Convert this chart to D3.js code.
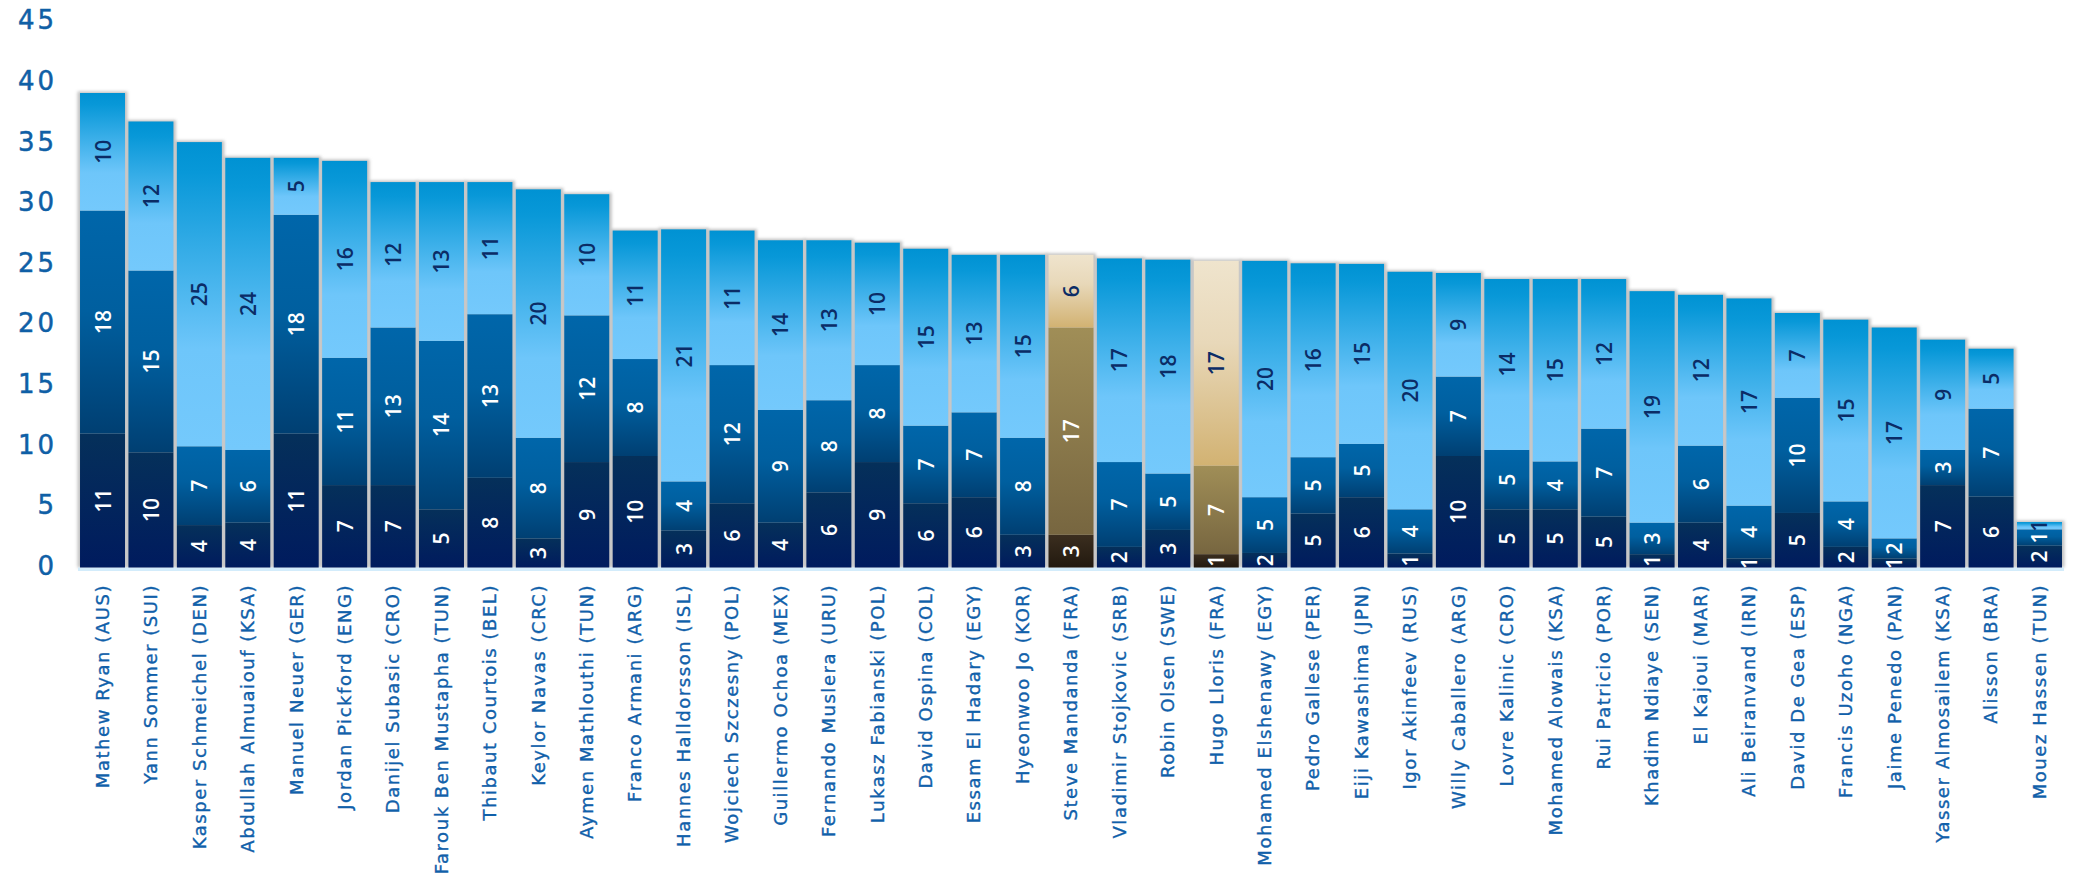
<!DOCTYPE html>
<html><head><meta charset="utf-8">
<script src="https://cdn.jsdelivr.net/npm/d3@7"></script>
<style>html,body{margin:0;padding:0;background:#fff;overflow:hidden}</style>
</head><body><svg id="c" width="2078" height="883"></svg>
<script>
const players = ["Mathew Ryan (AUS)","Yann Sommer (SUI)","Kasper Schmeichel (DEN)","Abdullah Almuaiouf (KSA)","Manuel Neuer (GER)","Jordan Pickford (ENG)","Danijel Subasic (CRO)","Farouk Ben Mustapha (TUN)","Thibaut Courtois (BEL)","Keylor Navas (CRC)","Aymen Mathlouthi (TUN)","Franco Armani (ARG)","Hannes Halldorsson (ISL)","Wojciech Szczesny (POL)","Guillermo Ochoa (MEX)","Fernando Muslera (URU)","Lukasz Fabianski (POL)","David Ospina (COL)","Essam El Hadary (EGY)","Hyeonwoo Jo (KOR)","Steve Mandanda (FRA)","Vladimir Stojkovic (SRB)","Robin Olsen (SWE)","Hugo Lloris (FRA)","Mohamed Elshenawy (EGY)","Pedro Gallese (PER)","Eiji Kawashima (JPN)","Igor Akinfeev (RUS)","Willy Caballero (ARG)","Lovre Kalinic (CRO)","Mohamed Alowais (KSA)","Rui Patricio (POR)","Khadim Ndiaye (SEN)","El Kajoui (MAR)","Ali Beiranvand (IRN)","David De Gea (ESP)","Francis Uzoho (NGA)","Jaime Penedo (PAN)","Yasser Almosailem (KSA)","Alisson (BRA)","Mouez Hassen (TUN)"];

// bar segment heights
const darkVals  = [11.05,9.5,3.5,3.7,11.05,6.8,6.8,4.8,7.4,2.4,8.7,9.2,3.05,5.3,3.7,6.2,8.7,5.3,5.8,2.7,2.7,1.7,3.1,1.1,1.2,4.45,5.8,1.15,9.2,4.8,4.8,4.2,1.1,3.7,0.75,4.5,1.7,0.75,6.8,5.85,1.8];
const midVals   = [18.4,15.0,6.5,6.0,18.05,10.5,13.0,13.9,13.5,8.3,12.1,8.0,4.05,11.4,9.3,7.6,8.0,6.4,7.0,8.0,17.1,7.0,4.65,7.3,4.6,4.65,4.4,3.65,6.55,4.9,3.95,7.25,2.6,6.35,4.35,9.5,3.75,1.65,2.9,7.25,1.35];
const lightVals = [9.7,12.3,25.1,24.1,4.7,16.25,12.0,13.1,10.9,20.5,10.0,10.6,20.8,11.1,14.0,13.2,10.1,14.6,13.0,15.1,6.0,16.8,17.65,16.9,19.5,16.0,14.85,19.6,8.55,14.1,15.05,12.35,19.1,12.45,17.1,7.0,15.0,17.4,9.1,4.95,0.6];

// numbers printed inside the segments
const darkLabels  = [11,10,4,4,11,7,7,5,8,3,9,10,3,6,4,6,9,6,6,3,3,2,3,1,2,5,6,1,10,5,5,5,1,4,1,5,2,1,7,6,2];
const midLabels   = [18,15,7,6,18,11,13,14,13,8,12,8,4,12,9,8,8,7,7,8,17,7,5,7,5,5,5,4,7,5,4,7,3,6,4,10,4,2,3,7,1];
const lightLabels = [10,12,25,24,5,16,12,13,11,20,10,11,21,11,14,13,10,15,13,15,6,17,18,17,20,16,15,20,9,14,15,12,19,12,17,7,15,17,9,5,1];

const highlightTeam = "(FRA)";
const yTicks = [0,5,10,15,20,25,30,35,40,45];

const svg = d3.select("#c");
const x = d3.scaleBand().domain(players).range([78.3, 2063.7]).paddingInner(0.0708).paddingOuter(0.0354);
const y = d3.scaleLinear().domain([0,45]).range([567.5, 22.1]);

const defs = svg.append("defs");
function grad(id, stops){
  const g = defs.append("linearGradient").attr("id", id).attr("x1",0).attr("y1",0).attr("x2",0).attr("y2",1);
  stops.forEach(s => g.append("stop").attr("offset", s[0]).attr("stop-color", s[1]));
}
grad("bDark",  [[0,"#05305a"],[1,"#001b5e"]]);
grad("bMid",   [[0,"#0066aa"],[0.45,"#005f9f"],[1,"#003f72"]]);
grad("bLight", [[0,"#0092d3"],[0.1,"#0898d8"],[0.68,"#6ec6fa"],[1,"#74c9fc"]]);
grad("gDark",  [[0,"#3b2e1f"],[1,"#22190f"]]);
grad("gMid",   [[0,"#a08e57"],[1,"#776640"]]);
grad("gLight", [[0,"#efe4cd"],[0.4,"#e8d8b9"],[1,"#d2b272"]]);
defs.append("filter").attr("id","sh").attr("x","-50%").attr("y","-50%").attr("width","200%").attr("height","200%")
  .append("feGaussianBlur").attr("stdDeviation", 1.6);

const rows = players.map((p,i) => {
  const hi = p.includes(highlightTeam);
  const segs = [
    {v0:0, v1:darkVals[i], lab:darkLabels[i], fill: hi?"url(#gDark)":"url(#bDark)", tc:"#ffffff"},
    {v0:darkVals[i], v1:darkVals[i]+midVals[i], lab:midLabels[i], fill: hi?"url(#gMid)":"url(#bMid)", tc:"#ffffff"},
    {v0:darkVals[i]+midVals[i], v1:darkVals[i]+midVals[i]+lightVals[i], lab:lightLabels[i], fill: hi?"url(#gLight)":"url(#bLight)", tc:"#0b2c66"}
  ];
  return {p, segs, total: segs[2].v1};
});

// shadows
svg.append("g").selectAll("rect").data(rows).join("rect")
  .attr("x", d => x(d.p) - 2.5).attr("width", x.bandwidth() + 5)
  .attr("y", d => y(d.total) - 1.5).attr("height", d => y(0) - y(d.total) + 1.5)
  .attr("fill", "#c2c2c2").attr("filter", "url(#sh)");

// baseline strip
svg.append("rect").attr("x", 78).attr("width", 1986).attr("y", y(0)).attr("height", 3.5).attr("fill", "#d3ecfb");

// bars
const bars = svg.append("g").selectAll("g").data(rows).join("g");
bars.selectAll("rect").data(d => d.segs.map(s => ({...s, p:d.p}))).join("rect")
  .attr("x", d => x(d.p)).attr("width", x.bandwidth())
  .attr("y", d => y(d.v1)).attr("height", d => y(d.v0) - y(d.v1))
  .attr("fill", d => d.fill);

// segment labels
bars.selectAll("text").data(d => d.segs.map(s => ({...s, p:d.p}))).join("text")
  .each(function(d){
    const cx = x(d.p) + x.bandwidth()/2, cy = (y(d.v0) + y(d.v1))/2;
    d3.select(this).attr("x", cx).attr("y", cy).attr("transform", `rotate(-90,${cx},${cy})`);
  })
  .attr("text-anchor","middle").attr("dominant-baseline","central")
  .attr("font-family","'Open Sans', sans-serif").attr("font-weight",600).attr("font-size",21)
  .attr("fill", d => d.tc).text(d => d.lab);

// y axis
const ya = svg.append("g").attr("transform","translate(57,-1.5)")
  .call(d3.axisLeft(y).tickValues(yTicks).tickSize(0).tickPadding(0));
ya.select(".domain").remove();
ya.selectAll("text").attr("font-family","'DejaVu Sans', sans-serif").attr("font-size",26)
  .attr("letter-spacing", 3).attr("fill","#0f5fa6").attr("stroke","#0f5fa6").attr("stroke-width",0.5);

// x axis
const xa = svg.append("g").attr("transform",`translate(0,${y(0)})`)
  .call(d3.axisBottom(x).tickSize(0).tickPadding(0));
xa.select(".domain").remove();
xa.selectAll("text").attr("transform","rotate(-90)").attr("x",-16.5).attr("y",0).attr("dy","0.35em")
  .attr("text-anchor","end").attr("font-family","'DejaVu Sans', sans-serif").attr("font-size",18)
  .attr("letter-spacing",1.55).attr("fill","#1060aa").attr("stroke","#1060aa").attr("stroke-width",0.35);
</script></body></html>
